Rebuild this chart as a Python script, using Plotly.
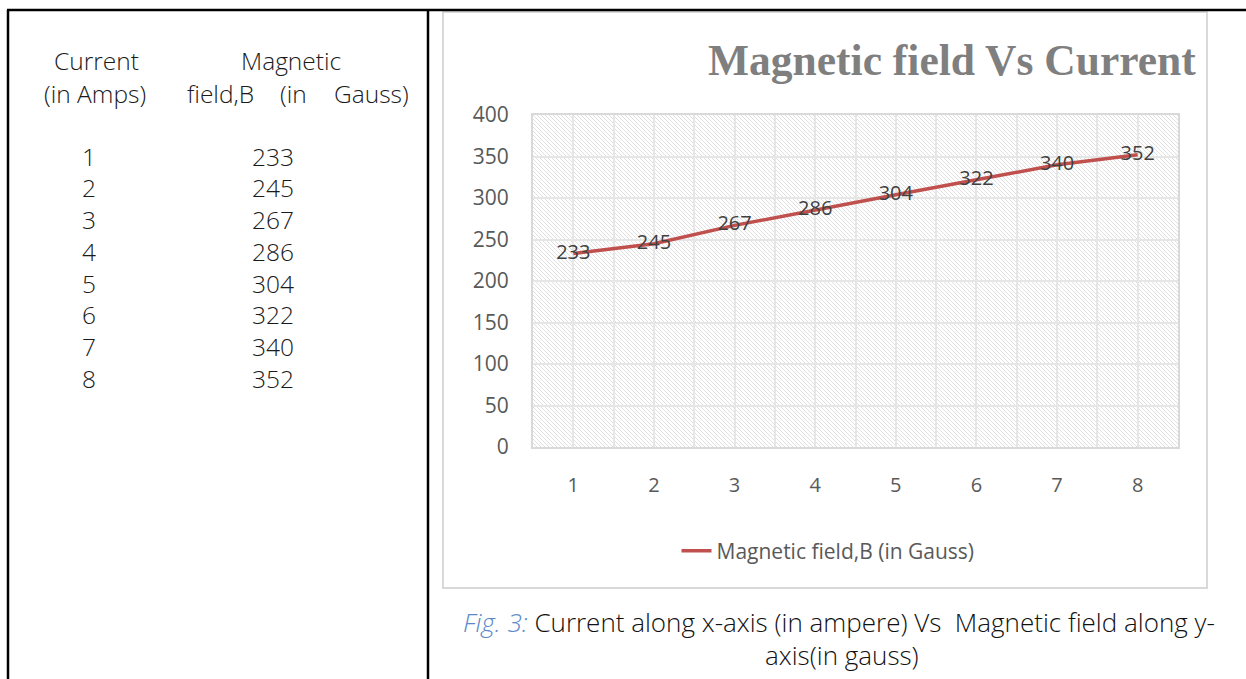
import plotly.graph_objects as go
import base64

# ---- data ----
current = [1, 2, 3, 4, 5, 6, 7, 8]
field = [233, 245, 267, 286, 304, 322, 340, 352]
y_ticks = [0, 50, 100, 150, 200, 250, 300, 350, 400]
series_name = "Magnetic field,B (in Gauss)"
chart_title = "Magnetic field Vs Current"
caption_fig = "Fig. 3:"
caption_1 = " Current along x-axis (in ampere) Vs  Magnetic field along y-"
caption_2 = "axis(in gauss)"

W, H = 1246, 679
PL, PR, PT, PB = 533, 1178, 115, 447


def fx(px):
    return (px - PL) / (PR - PL)


def fy(py):
    return (PB - py) / (PB - PT)


fig = go.Figure()
fig.add_trace(go.Scatter(
    x=current, y=field, mode="lines+text", name=series_name,
    line=dict(color="#c0504d", width=3.5),
    text=[str(v) for v in field], textposition="middle center",
    textfont=dict(family="Open Sans", size=20, color="#404040"),
    cliponaxis=False, showlegend=True,
))

# hatch background image for plot area
svg = ("<svg xmlns='http://www.w3.org/2000/svg' width='645' height='332'>"
       "<defs><pattern id='p' width='4' height='4' patternUnits='userSpaceOnUse'>"
       "<path d='M-1,-1 L5,5 M3,-1 L5,1 M-1,3 L1,5' stroke='#d8d8d8' stroke-width='0.8'/>"
       "</pattern></defs><rect width='100%' height='100%' fill='url(#p)'/></svg>")
src = "data:image/svg+xml;base64," + base64.b64encode(svg.encode()).decode()

shapes = []
# page/table borders
shapes.append(dict(type="line", xref="paper", yref="paper", x0=fx(7), x1=fx(1246), y0=fy(10), y1=fy(10),
                   line=dict(color="black", width=2.5)))
shapes.append(dict(type="line", xref="paper", yref="paper", x0=fx(8), x1=fx(8), y0=fy(10), y1=fy(679),
                   line=dict(color="black", width=2.5)))
shapes.append(dict(type="line", xref="paper", yref="paper", x0=fx(428), x1=fx(428), y0=fy(10), y1=fy(679),
                   line=dict(color="black", width=2.5)))
# chart frame
shapes.append(dict(type="rect", xref="paper", yref="paper", x0=fx(443), x1=fx(1207), y0=fy(12), y1=fy(588),
                   line=dict(color="#d9d9d9", width=2), layer="below"))

ann = []
tfont = dict(family="Open Sans", size=24.5, color="#1a1a1a", weight=300)
ann.append(dict(text="Current", x=fx(96), y=fy(61), xanchor="center", yanchor="middle"))
ann.append(dict(text="(in Amps)", x=fx(95), y=fy(93), xanchor="center", yanchor="middle"))
ann.append(dict(text="Magnetic", x=fx(291), y=fy(61), xanchor="center", yanchor="middle"))
ann.append(dict(text="field,B", x=fx(185), y=fy(93), xanchor="left", yanchor="middle"))
ann.append(dict(text="(in", x=fx(278), y=fy(93), xanchor="left", yanchor="middle"))
ann.append(dict(text="Gauss)", x=fx(411), y=fy(93), xanchor="right", yanchor="middle"))
for i, (c, b) in enumerate(zip(current, field)):
    yy = 156 + i * 31.75
    ann.append(dict(text=str(c), x=fx(89), y=fy(yy), xanchor="center", yanchor="middle"))
    ann.append(dict(text=str(b), x=fx(273), y=fy(yy), xanchor="center", yanchor="middle"))
for a in ann:
    a.update(xref="paper", yref="paper", showarrow=False, font=tfont)

ann.append(dict(text="<b>" + chart_title + "</b>", x=fx(1198), y=fy(60), xref="paper", yref="paper",
                xanchor="right", yanchor="middle", showarrow=False,
                font=dict(family="Liberation Serif", size=43.5, color="#7f7f7f")))
ann.append(dict(text="<i>" + caption_fig + "</i>" + "<span style='color:#111111'>" + caption_1 + "</span>",
                x=fx(839), y=fy(622), xref="paper", yref="paper", xanchor="center", yanchor="middle",
                showarrow=False, font=dict(family="Open Sans", size=26, color="#5b8ac8", weight=300)))
ann.append(dict(text=caption_2, x=fx(842), y=fy(655), xref="paper", yref="paper", xanchor="center",
                yanchor="middle", showarrow=False,
                font=dict(family="Open Sans", size=26, color="#111111", weight=300)))

fig.update_layout(
    width=W, height=H,
    margin=dict(l=PL, r=W - PR, t=PT, b=H - PB, pad=0),
    paper_bgcolor="white", plot_bgcolor="white",
    shapes=shapes, annotations=ann,
    images=[dict(source=src, xref="paper", yref="paper", x=0, y=1, sizex=1, sizey=1,
                 sizing="stretch", layer="below", xanchor="left", yanchor="top")],
    legend=dict(orientation="h", x=fx(828), y=fy(551), xanchor="center", yanchor="middle",
                font=dict(family="Open Sans", size=21, color="#595959"), bgcolor="rgba(0,0,0,0)"),
    xaxis=dict(range=[0.5, 8.5], tickmode="array", tickvals=current, ticktext=[str(c) for c in current],
               showgrid=True, gridcolor="#e6e6e6", gridwidth=2, zeroline=False,
               showline=True, mirror=True, linecolor="#d9d9d9", linewidth=2,
               ticks="", ticklabelstandoff=19,
               tickfont=dict(family="Open Sans", size=20, color="#595959"),
               minor=dict(tick0=0.5, dtick=1, showgrid=True, gridcolor="#e6e6e6", gridwidth=2)),
    yaxis=dict(range=[0, 400], tickmode="array", tickvals=y_ticks,
               showgrid=True, gridcolor="#e6e6e6", gridwidth=2, zeroline=False,
               showline=True, mirror=True, linecolor="#d9d9d9", linewidth=2,
               ticks="", ticklabelstandoff=18,
               tickfont=dict(family="Open Sans", size=21, color="#595959")),
)

fig.write_html("out.html", config={"displayModeBar": False},
               post_script="document.body.style.margin='0';")
